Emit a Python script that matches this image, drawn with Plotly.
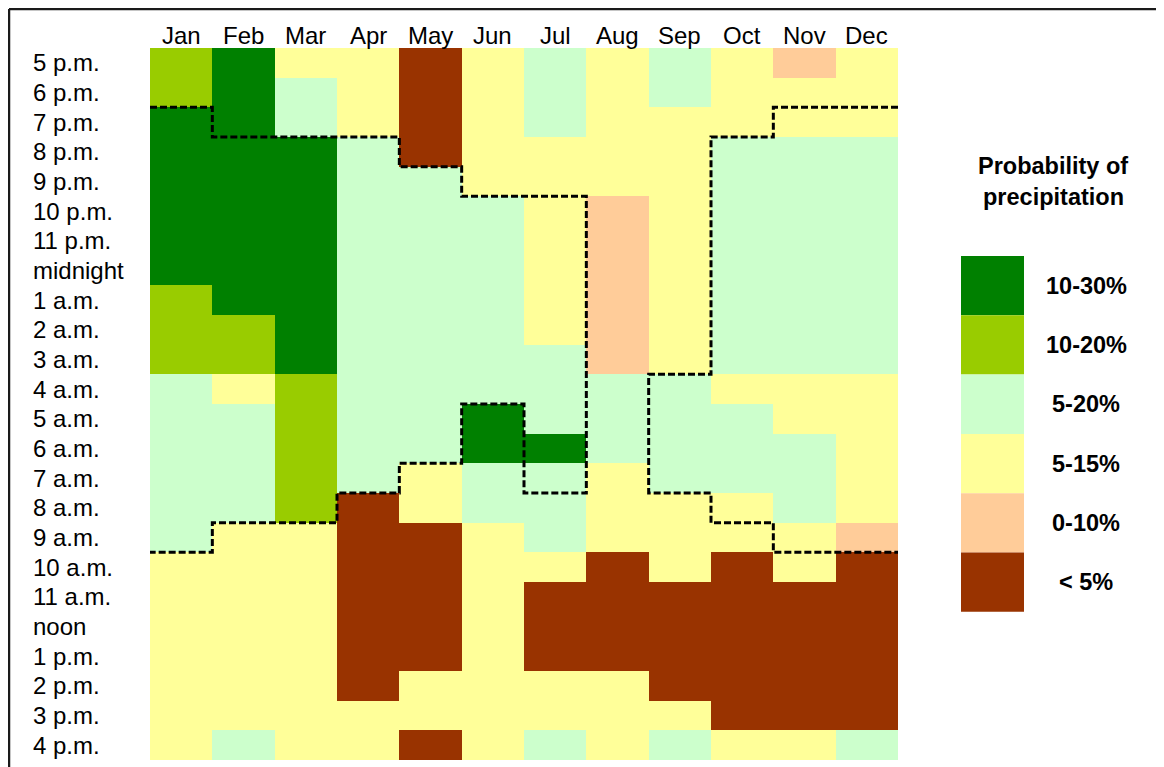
import plotly.graph_objects as go

# ---------------- data ----------------
months = ["Jan", "Feb", "Mar", "Apr", "May", "Jun", "Jul", "Aug", "Sep", "Oct", "Nov", "Dec"]
hours = ["5 p.m.", "6 p.m.", "7 p.m.", "8 p.m.", "9 p.m.", "10 p.m.", "11 p.m.", "midnight",
         "1 a.m.", "2 a.m.", "3 a.m.", "4 a.m.", "5 a.m.", "6 a.m.", "7 a.m.", "8 a.m.",
         "9 a.m.", "10 a.m.", "11 a.m.", "noon", "1 p.m.", "2 p.m.", "3 p.m.", "4 p.m."]

# category labels (code 0..5) and colours
cat_labels = ["< 5%", "0-10%", "5-15%", "5-20%", "10-20%", "10-30%"]
cat_colors = ["#993300", "#FFCC99", "#FFFF99", "#CCFFCC", "#99CC00", "#008000"]
B, P, Y, L, G, D = 0, 1, 2, 3, 4, 5

# per-month category codes, hour rows 5 p.m. .. 4 p.m.
jan = [G]*2 + [D]*6 + [G]*3 + [L]*6 + [Y]*7
feb = [D]*9 + [G]*2 + [Y]*1 + [L]*4 + [Y]*7 + [L]*1
mar = [Y]*1 + [L]*2 + [D]*8 + [G]*5 + [Y]*8
apr = [Y]*3 + [L]*12 + [B]*7 + [Y]*2
may = [B]*4 + [L]*10 + [Y]*2 + [B]*5 + [Y]*2 + [B]*1
jun = [Y]*5 + [L]*7 + [D]*2 + [L]*2 + [Y]*8
jul = [L]*3 + [Y]*7 + [L]*3 + [D]*1 + [L]*3 + [Y]*1 + [B]*3 + [Y]*2 + [L]*1
aug = [Y]*5 + [P]*6 + [L]*3 + [Y]*3 + [B]*4 + [Y]*3
sep = [L]*2 + [Y]*9 + [L]*4 + [Y]*3 + [B]*4 + [Y]*1 + [L]*1
oct_ = [Y]*3 + [L]*8 + [Y]*1 + [L]*3 + [Y]*2 + [B]*6 + [Y]*1
nov = [P]*1 + [Y]*2 + [L]*8 + [Y]*2 + [L]*3 + [Y]*2 + [B]*5 + [Y]*1
dec = [Y]*3 + [L]*8 + [Y]*5 + [P]*1 + [B]*6 + [L]*1
month_cols = [jan, feb, mar, apr, may, jun, jul, aug, sep, oct_, nov, dec]

# dashed boundary paths, as (month edge, hour edge) grid-line indices
left_path_m = [0, 1, 1, 4, 4, 5, 5, 7, 7, 6, 6, 5, 5, 4, 4, 3, 3, 1, 1, 0]
left_path_h = [2, 2, 3, 3, 4, 4, 5, 5, 15, 15, 12, 12, 14, 14, 15, 15, 16, 16, 17, 17]
right_path_m = [12, 10, 10, 9, 9, 8, 8, 9, 9, 10, 10, 12]
right_path_h = [2, 2, 3, 3, 11, 11, 15, 15, 16, 16, 17, 17]

# ---------------- figure ----------------
OFF = 8                                # page body margin
W, H = 1164 - OFF, 767 - OFF
PL, PR, PT, PB = 150, 898, 48, 760     # plot area in window pixels
FONT = "Liberation Sans, Arial, sans-serif"


def px_x(px):
    return (px - PL) / (PR - PL)


def px_y(py):
    return (PB - py) / (PB - PT)


z = [[month_cols[m][h] for m in range(len(months))] for h in range(len(hours))]
n = len(cat_colors)
colorscale = []
for i, c in enumerate(cat_colors):
    colorscale.append([i / n, c])
    colorscale.append([(i + 1) / n, c])

fig = go.Figure()
fig.add_trace(go.Heatmap(
    z=z, x=list(range(len(months))), y=list(range(len(hours))),
    zmin=-0.5, zmax=n - 0.5, colorscale=colorscale, showscale=False,
    xgap=0, ygap=0, hoverinfo="skip"))

for pm, ph in [(left_path_m, left_path_h), (right_path_m, right_path_h)]:
    fig.add_trace(go.Scatter(
        x=[v - 0.5 for v in pm], y=[v - 0.5 for v in ph], mode="lines",
        line=dict(color="black", width=3, dash="7px,3px"),
        showlegend=False, hoverinfo="skip"))

ann = []
for i, m in enumerate(months):
    ann.append(dict(x=i, y=1, xref="x", yref="paper", text=m, showarrow=False,
                    yanchor="middle", yshift=13, font=dict(size=24, color="black", family=FONT)))
for j, h in enumerate(hours):
    ann.append(dict(x=px_x(31), y=j, xref="paper", yref="y", text=h, showarrow=False,
                    xanchor="left", yanchor="middle", font=dict(size=24, color="black", family=FONT)))

# legend
ann.append(dict(x=px_x(1053), y=px_y(166), xref="paper", yref="paper", text="<b>Probability of</b>",
                showarrow=False, xanchor="center", yanchor="middle",
                font=dict(size=23.5, color="black", family=FONT)))
ann.append(dict(x=px_x(1053), y=px_y(197), xref="paper", yref="paper", text="<b>precipitation</b>",
                showarrow=False, xanchor="center", yanchor="middle",
                font=dict(size=23.5, color="black", family=FONT)))

shapes = []
box_top, box_h = 256, 59.3
for k, code in enumerate(reversed(range(n))):
    y0 = box_top + k * box_h
    shapes.append(dict(type="rect", xref="paper", yref="paper",
                       x0=px_x(961), x1=px_x(1024), y0=px_y(y0), y1=px_y(y0 + box_h),
                       fillcolor=cat_colors[code], line=dict(width=0)))
    ann.append(dict(x=px_x(1086), y=px_y(y0 + box_h / 2), xref="paper", yref="paper",
                    text="<b>" + cat_labels[code].replace("<", "&lt;") + "</b>", showarrow=False,
                    xanchor="center", yanchor="middle",
                    font=dict(size=23.5, color="black", family=FONT)))

# outer frame (extends beyond the picture on the right and bottom)
shapes.append(dict(type="line", xref="paper", yref="paper", x0=px_x(9), x1=px_x(1200),
                   y0=px_y(9), y1=px_y(9), line=dict(color="#1a1a1a", width=2.5)))
shapes.append(dict(type="line", xref="paper", yref="paper", x0=px_x(9), x1=px_x(9),
                   y0=px_y(9), y1=px_y(800), line=dict(color="#1a1a1a", width=2.5)))

fig.update_layout(
    width=W, height=H,
    margin=dict(l=PL - OFF, r=1164 - PR, t=PT - OFF, b=767 - PB, pad=0),
    paper_bgcolor="white", plot_bgcolor="white",
    xaxis=dict(range=[-0.5, len(months) - 0.5], showticklabels=False, showgrid=False,
               zeroline=False, ticks="", fixedrange=True),
    yaxis=dict(range=[len(hours) - 0.5, -0.5], showticklabels=False, showgrid=False,
               zeroline=False, ticks="", fixedrange=True),
    annotations=ann, shapes=shapes, showlegend=False,
    font=dict(family=FONT),
)

fig.write_html("out.html", config={"displayModeBar": False})
